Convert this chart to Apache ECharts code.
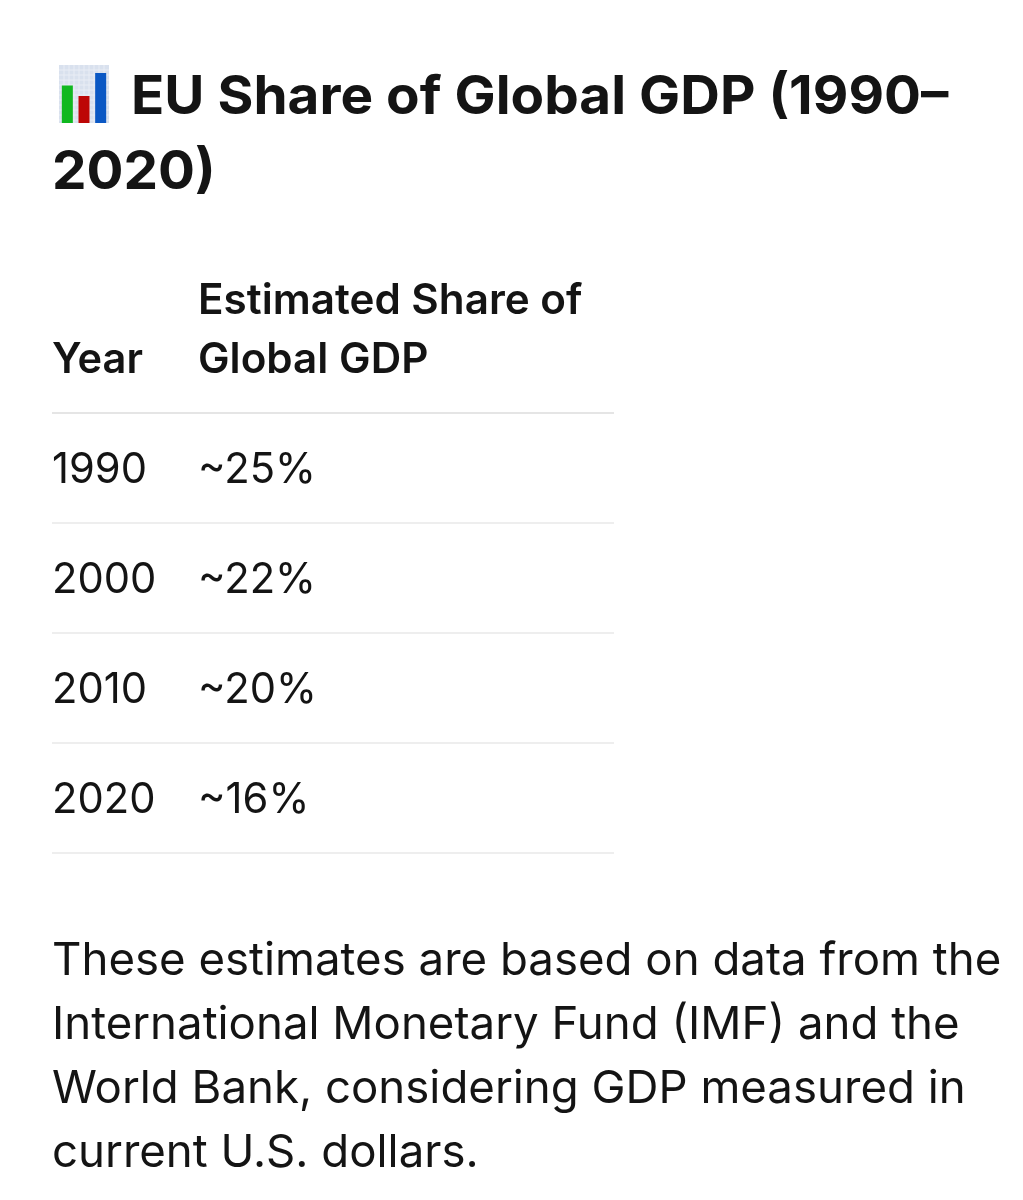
<!DOCTYPE html>
<html>
<head>
<meta charset="utf-8">
<title>EU Share of Global GDP</title>
<style>
  html, body { margin: 0; padding: 0; background: #fff; }
  #chart { width: 1023px; height: 1200px; }
</style>
<script src="https://cdn.jsdelivr.net/npm/echarts@6/dist/echarts.min.js"></script>
</head>
<body>
<div id="chart"></div>
<script>
const titleLines = ['EU Share of Global GDP (1990–', '2020)'];
const headerYear = 'Year';
const headerShare = ['Estimated Share of', 'Global GDP'];
const years = ['1990', '2000', '2010', '2020'];
const shares = ['~25%', '~22%', '~20%', '~16%'];
const noteLines = [
  'These estimates are based on data from the',
  'International Monetary Fund (IMF) and the',
  'World Bank, considering GDP measured in',
  'current U.S. dollars.'
];
// the little bar chart emoji in front of the title
const iconCategories = ['a', 'b', 'c'];
const iconValues = [37.5, 27, 50];
const iconColors = ['#0fb81f', '#bd0606', '#0b58c4'];

const fontFamily = 'Inter, "Noto Sans", sans-serif';
const textColor = '#141414';

function text(str, x, y, size, weight, scaleX) {
  return {
    type: 'text',
    x: x,
    y: y,
    scaleX: scaleX || 1,
    style: {
      text: str,
      fill: textColor,
      fontFamily: fontFamily,
      fontSize: size,
      fontWeight: weight,
      textVerticalAlign: 'middle'
    }
  };
}

function hLine(y, color) {
  return {
    type: 'line',
    shape: { x1: 52, y1: y, x2: 614, y2: y },
    style: { stroke: color, lineWidth: 1.5 }
  };
}

let elements = [];

// icon background with its fine grid
elements.push({
  type: 'rect',
  z: -1,
  shape: { x: 59, y: 65, width: 50, height: 58 },
  style: { fill: '#d9e1ee' }
});
for (let i = 1; i < 10; i++) {
  elements.push({
    type: 'line',
    z: -1,
    shape: { x1: 59 + i * 5, y1: 65, x2: 59 + i * 5, y2: 123 },
    style: { stroke: '#e9edf5', lineWidth: 1 }
  });
}
for (let i = 1; i < 12; i++) {
  elements.push({
    type: 'line',
    z: -1,
    shape: { x1: 59, y1: 65 + i * 5, x2: 109, y2: 65 + i * 5 },
    style: { stroke: '#e9edf5', lineWidth: 1 }
  });
}

// title
elements.push(text(titleLines[0], 131, 98, 54, 700, 1.016));
elements.push(text(titleLines[1], 52, 173, 54, 700, 1.016));

// table header
elements.push(text(headerShare[0], 198, 301, 42, 600, 1.005));
elements.push(text(headerShare[1], 198, 360, 42, 600, 1.005));
elements.push(text(headerYear, 52, 360, 42, 600, 0.99));
elements.push(hLine(413, '#dcdcdc'));

// table rows
const rowY = [470, 580, 690, 800];
const ruleY = [523, 633, 743, 853];
years.forEach((year, i) => {
  elements.push(text(year, 52, rowY[i], 43, 400, 0.97));
  elements.push(text(shares[i], 198, rowY[i], 43, 400, 0.97));
  elements.push(hLine(ruleY[i], '#e9e9e9'));
});

// note under the table
const noteY = [961, 1025, 1089, 1153];
noteLines.forEach((line, i) => {
  elements.push(text(line, 52, noteY[i], 45.6, 400));
});

let chart = echarts.init(document.getElementById('chart'));
chart.setOption({
  backgroundColor: '#ffffff',
  animation: false,
  grid: { left: 59, top: 65, width: 50, height: 58 },
  xAxis: { type: 'category', data: iconCategories, show: false },
  yAxis: { type: 'value', min: 0, max: 58, show: false },
  series: [
    {
      type: 'bar',
      barWidth: 11,
      data: iconValues.map((v, i) => ({ value: v, itemStyle: { color: iconColors[i] } }))
    }
  ],
  graphic: { elements: elements }
});
</script>
</body>
</html>
